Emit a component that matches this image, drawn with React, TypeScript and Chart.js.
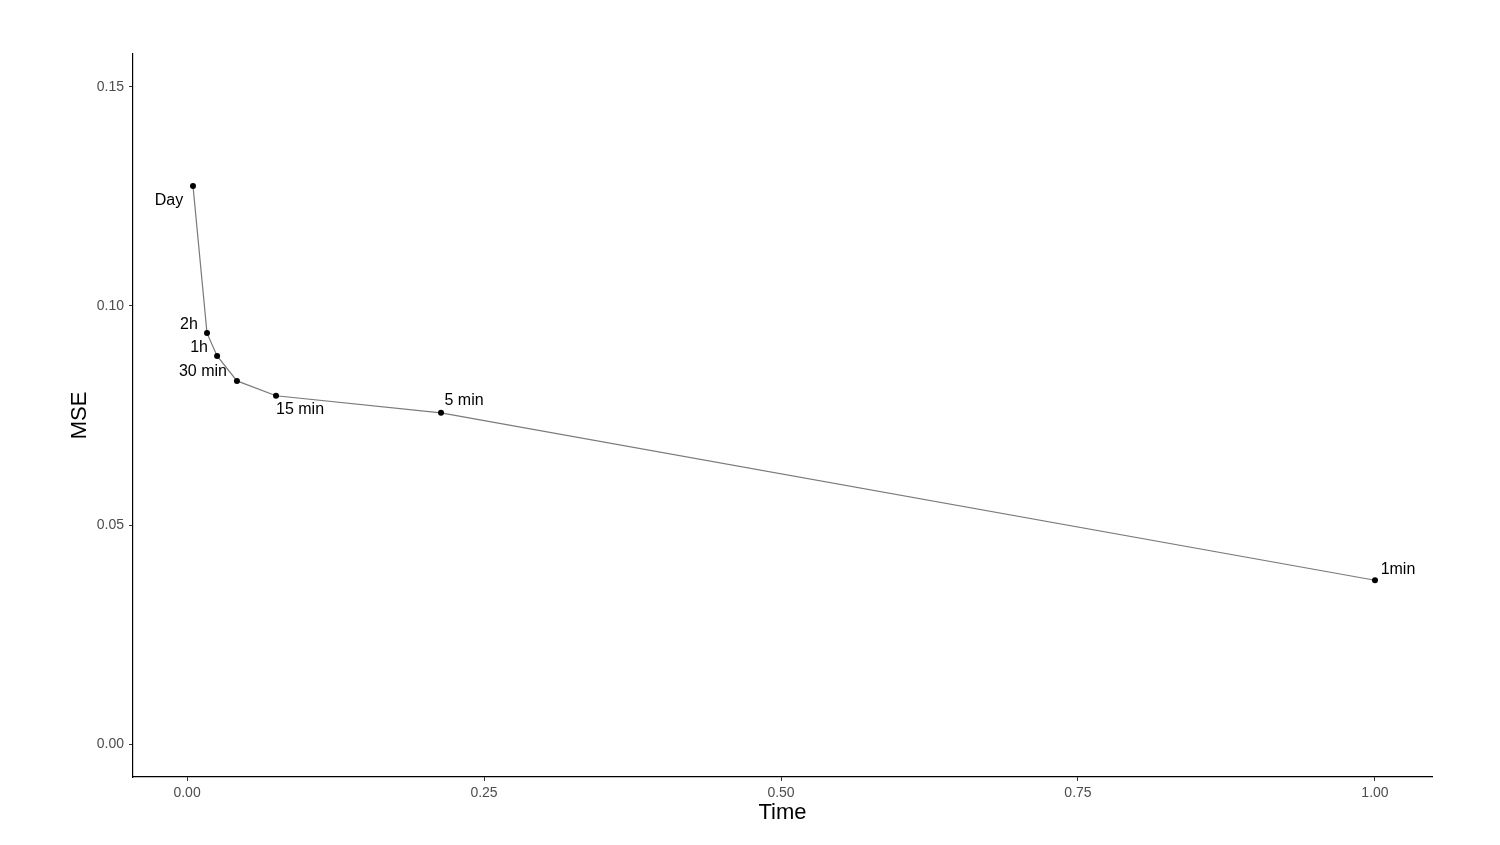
import React, { useEffect, useRef } from "react";
import { Chart, registerables } from "chart.js";

Chart.register(...registerables);

const labels = ["Day", "2h", "1h", "30 min", "15 min", "5 min", "1min"];
const timeValues = [0.005, 0.0168, 0.0253, 0.042, 0.0749, 0.2138, 1.0];
const mseValues = [0.1274, 0.0938, 0.0886, 0.0829, 0.0795, 0.0756, 0.0374];
const xTicks = [0, 0.25, 0.5, 0.75, 1.0];
const yTicks = [0, 0.05, 0.1, 0.15];
const labelOffsets: [number, number][] = [
  [-24, 15],
  [-18, -9],
  [-18, -8],
  [-34, -9],
  [24, 14],
  [23, -12],
  [23, -11],
];

const FONT = "'Liberation Sans', Arial, sans-serif";

const labelPlugin = {
  id: "pointLabels",
  afterDatasetsDraw(chart: any) {
    const meta = chart.getDatasetMeta(0);
    const ctx = chart.ctx;
    ctx.save();
    ctx.font = `16px ${FONT}`;
    ctx.fillStyle = "#000";
    ctx.textAlign = "center";
    ctx.textBaseline = "middle";
    meta.data.forEach((pt: any, i: number) => {
      const [dx, dy] = labelOffsets[i];
      ctx.fillText(labels[i], pt.x + dx, pt.y + dy);
    });
    ctx.restore();
  },
};

export default function App() {
  const ref = useRef<HTMLCanvasElement>(null);
  useEffect(() => {
    document.body.style.margin = "0";
    const chart = new Chart(ref.current!, {
      type: "scatter",
      data: {
        datasets: [
          {
            data: timeValues.map((x, i) => ({ x, y: mseValues[i] })),
            showLine: true,
            borderColor: "#7a7a7a",
            borderWidth: 1.2,
            pointRadius: 3,
            pointBackgroundColor: "#000",
            pointBorderColor: "#000",
            pointBorderWidth: 0,
          },
        ],
      },
      options: {
        animation: false,
        responsive: false,
        maintainAspectRatio: false,
        layout: { padding: { top: 54, right: 68, left: 0, bottom: 0 } },
        plugins: { legend: { display: false }, tooltip: { enabled: false } },
        scales: {
          x: {
            type: "linear",
            min: -0.0455,
            max: 1.048,
            afterBuildTicks: (s: any) => {
              s.ticks = xTicks.map((v) => ({ value: v }));
            },
            afterFit: (s: any) => {
              s.height = 68;
            },
            grid: { drawOnChartArea: false, drawTicks: true, tickLength: 4, color: "#333" },
            border: { display: true, color: "#000", width: 1.2 },
            ticks: {
              color: "#4d4d4d",
              font: { size: 14, family: FONT },
              padding: 4,
              maxRotation: 0,
              callback: (v: any) => Number(v).toFixed(2),
            },
            title: {
              display: true,
              text: "Time",
              color: "#000",
              font: { size: 22, family: FONT },
              padding: { top: 0, bottom: 19 },
            },
          },
          y: {
            type: "linear",
            min: -0.0075,
            max: 0.1575,
            afterBuildTicks: (s: any) => {
              s.ticks = yTicks.map((v) => ({ value: v }));
            },
            afterFit: (s: any) => {
              s.width = 133;
            },
            grid: { drawOnChartArea: false, drawTicks: true, tickLength: 4, color: "#333" },
            border: { display: true, color: "#000", width: 1.2 },
            ticks: {
              color: "#4d4d4d",
              font: { size: 14, family: FONT },
              padding: 5,
              callback: (v: any) => Number(v).toFixed(2),
            },
            title: {
              display: true,
              text: "MSE",
              color: "#000",
              font: { size: 22, family: FONT },
              padding: { top: 67, bottom: 0 },
            },
          },
        },
      },
      plugins: [labelPlugin],
    });
    return () => chart.destroy();
  }, []);
  return (
    <div style={{ width: 1500, height: 845, background: "#fff" }}>
      <canvas ref={ref} width={1500} height={845} style={{ display: "block" }} />
    </div>
  );
}
